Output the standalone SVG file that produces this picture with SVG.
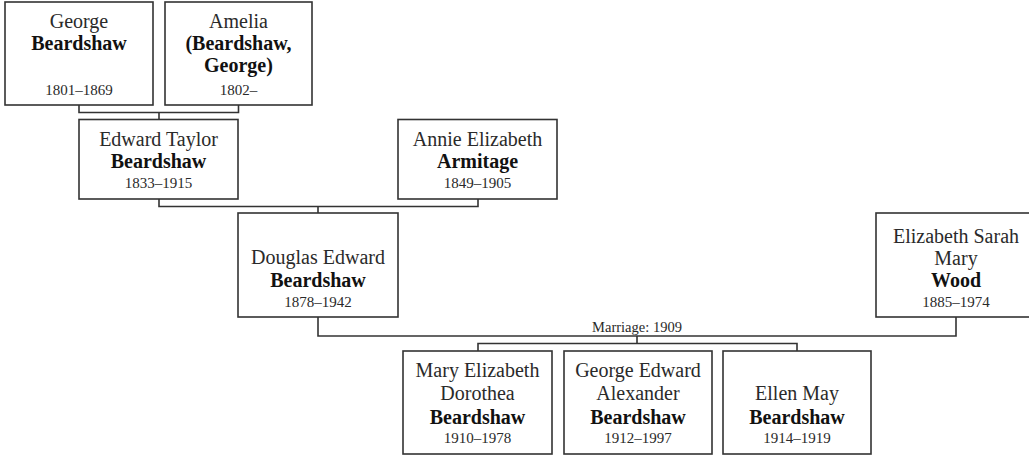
<svg xmlns="http://www.w3.org/2000/svg" width="1029" height="456" viewBox="0 0 1029 456">
<style>
.box{fill:#fff;stroke:#333;stroke-width:1.6}
.c{fill:none;stroke:#333;stroke-width:1.6}
text{font-family:"Liberation Serif","Times New Roman",serif;text-anchor:middle}
.n{font-size:20px;fill:#2a2a2a}
.b{font-size:20px;font-weight:bold;fill:#111}
.d{font-size:15px;fill:#2a2a2a}
.m{font-size:14.5px;fill:#2a2a2a}
</style>
<rect width="1029" height="456" fill="#fff"/>
<g id="connectors">
<path class="c" d="M79,105 V112.5 H238.5 V105 M159,112.5 V119.5"/>
<path class="c" d="M159,199 V206.5 H478 V199 M318,206.5 V213"/>
<path class="c" d="M318,317 V336 H956 V317 M637,336 V343.5 M478,351 V343.5 H797 V351"/>
<text class="m" x="637" y="332">Marriage: 1909</text>
</g>
<g id="george">
<rect class="box" x="5" y="2" width="148" height="103"/>
<text class="n" x="79" y="28">George</text>
<text class="b" x="79" y="50">Beardshaw</text>
<text class="d" x="79" y="95">1801–1869</text>
</g>
<g id="amelia">
<rect class="box" x="165" y="2" width="147" height="103"/>
<text class="n" x="238.5" y="28">Amelia</text>
<text class="b" x="238.5" y="50">(Beardshaw,</text>
<text class="b" x="238.5" y="72">George)</text>
<text class="d" x="238.5" y="95">1802–</text>
</g>
<g id="edward">
<rect class="box" x="79" y="119.5" width="159" height="79.5"/>
<text class="n" x="158.5" y="146">Edward Taylor</text>
<text class="b" x="158.5" y="168">Beardshaw</text>
<text class="d" x="158.5" y="188">1833–1915</text>
</g>
<g id="annie">
<rect class="box" x="398" y="119.5" width="159" height="79.5"/>
<text class="n" x="477.5" y="146">Annie Elizabeth</text>
<text class="b" x="477.5" y="168">Armitage</text>
<text class="d" x="477.5" y="188">1849–1905</text>
</g>
<g id="douglas">
<rect class="box" x="238" y="213" width="160" height="104"/>
<text class="n" x="318" y="264">Douglas Edward</text>
<text class="b" x="318" y="287">Beardshaw</text>
<text class="d" x="318" y="307">1878–1942</text>
</g>
<g id="elizabeth">
<rect class="box" x="876" y="213" width="160" height="104"/>
<text class="n" x="956" y="243">Elizabeth Sarah</text>
<text class="n" x="956" y="265">Mary</text>
<text class="b" x="956" y="287">Wood</text>
<text class="d" x="956" y="307">1885–1974</text>
</g>
<g id="mary">
<rect class="box" x="403" y="351" width="149" height="103"/>
<text class="n" x="477.5" y="377">Mary Elizabeth</text>
<text class="n" x="477.5" y="400">Dorothea</text>
<text class="b" x="477.5" y="424">Beardshaw</text>
<text class="d" x="477.5" y="443">1910–1978</text>
</g>
<g id="georgeedward">
<rect class="box" x="564" y="351" width="148" height="103"/>
<text class="n" x="638" y="377">George Edward</text>
<text class="n" x="638" y="400">Alexander</text>
<text class="b" x="638" y="424">Beardshaw</text>
<text class="d" x="638" y="443">1912–1997</text>
</g>
<g id="ellen">
<rect class="box" x="723" y="351" width="148" height="103"/>
<text class="n" x="797" y="400">Ellen May</text>
<text class="b" x="797" y="424">Beardshaw</text>
<text class="d" x="797" y="443">1914–1919</text>
</g>
</svg>
